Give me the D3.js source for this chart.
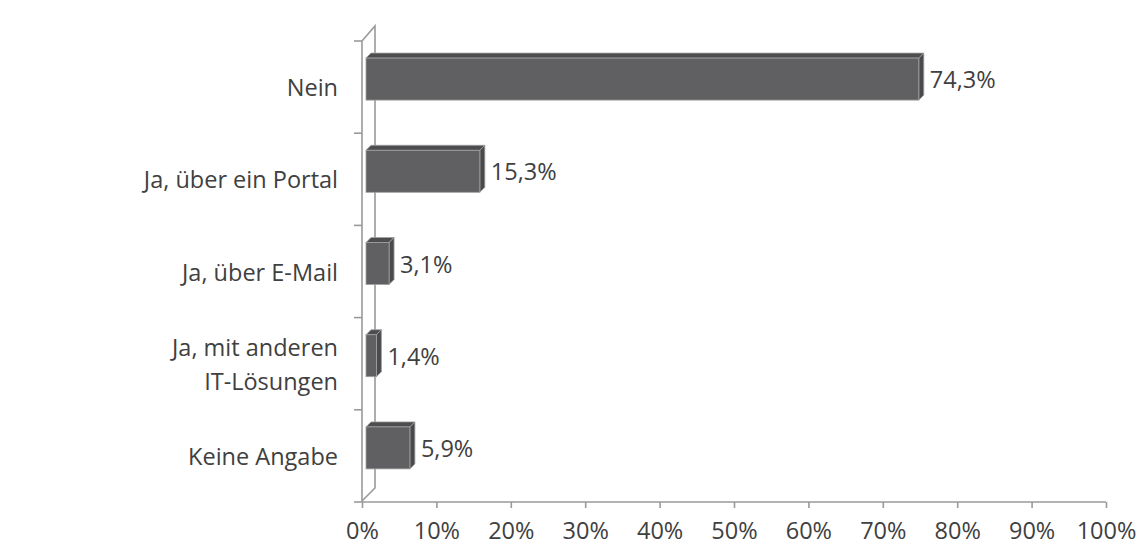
<!DOCTYPE html>
<html>
<head>
<meta charset="utf-8">
<title>Balkendiagramm</title>
<script src="https://d3js.org/d3.v7.min.js"></script>
<style>
  body { margin: 0; background: #ffffff; }
  svg text { font-family: "Open Sans", sans-serif; fill: #404040; }
</style>
</head>
<body>
<svg width="1137" height="550"></svg>
<script>
  // data
  var categories = ["Nein", "Ja, über ein Portal", "Ja, über E-Mail", "Ja, mit anderen\nIT-Lösungen", "Keine Angabe"];
  var values = [74.3, 15.3, 3.1, 1.4, 5.9];
  var valueLabels = ["74,3%", "15,3%", "3,1%", "1,4%", "5,9%"];
  var tickValues = [0, 10, 20, 30, 40, 50, 60, 70, 80, 90, 100];

  var svg = d3.select("svg");
  var plotLeft = 362, plotRight = 1106, plotTop = 41, plotBottom = 502;
  var depth = 13;      // wall depth (3d offset)
  var barDepth = 5;
  var fontSize = "23.5px";

  var x = d3.scaleLinear().domain([0, 100]).range([plotLeft, plotRight]);
  var y = d3.scaleBand().domain(categories).range([plotTop, plotBottom]);

  var axisColor = "#9a9a9a";

  // back wall outline
  var wall = svg.append("g").attr("fill", "none").attr("stroke", axisColor).attr("stroke-width", 1.6);
  wall.append("path").attr("d",
    "M" + plotLeft + "," + plotBottom + "L" + plotLeft + "," + plotTop +
    "L" + (plotLeft + depth) + "," + (plotTop - depth - 2) +
    "L" + (plotLeft + depth) + "," + (plotBottom - depth - 1) +
    "L" + plotLeft + "," + (plotBottom - 1));

  // y axis tick marks (category boundaries)
  var bounds = categories.map(function(c) { return y(c); }).concat([plotBottom]);
  svg.append("g").selectAll("line").data(bounds).enter().append("line")
    .attr("x1", plotLeft - 8).attr("x2", plotLeft)
    .attr("y1", function(d) { return d; }).attr("y2", function(d) { return d; })
    .attr("stroke", axisColor).attr("stroke-width", 1.6);

  // x axis
  var xAxis = d3.axisBottom(x).tickValues(tickValues)
    .tickFormat(function(d) { return d + "%"; })
    .tickSize(6).tickPadding(14);
  var ax = svg.append("g").attr("transform", "translate(0," + plotBottom + ")").call(xAxis);
  ax.select(".domain").attr("stroke", axisColor).attr("stroke-width", 1.6)
    .attr("d", "M" + plotLeft + ",0H" + plotRight);
  ax.selectAll(".tick line").attr("stroke", axisColor).attr("stroke-width", 1.6);
  ax.selectAll(".tick text").style("font-size", fontSize).attr("fill", "#404040");

  // bars
  var bars = svg.append("g");
  categories.forEach(function(c, i) {
    var cy = y(c) + y.bandwidth() / 2;
    var x0 = x(0) + 4, x1 = x(values[i]) + 4;
    var y0 = cy - 29, y1 = cy + 13;
    var d = barDepth;
    // top face
    bars.append("path")
      .attr("d", "M" + x0 + "," + y0 + "L" + (x0 + d) + "," + (y0 - d) + "L" + (x1 + d) + "," + (y0 - d) + "L" + x1 + "," + y0 + "Z")
      .attr("fill", "#4d4d4f").attr("stroke", "#a0a0a0").attr("stroke-width", 0.8);
    // side face
    bars.append("path")
      .attr("d", "M" + x1 + "," + y0 + "L" + (x1 + d) + "," + (y0 - d) + "L" + (x1 + d) + "," + (y1 - d) + "L" + x1 + "," + y1 + "Z")
      .attr("fill", "#4a4a4c").attr("stroke", "#a0a0a0").attr("stroke-width", 0.8);
    // front face
    bars.append("rect")
      .attr("x", x0).attr("y", y0)
      .attr("width", x1 - x0).attr("height", y1 - y0)
      .attr("fill", "#606062").attr("stroke", "#a0a0a0").attr("stroke-width", 0.8);
    // value label
    bars.append("text")
      .attr("x", x1 + d + 6).attr("y", cy - 8)
      .attr("dominant-baseline", "central")
      .style("font-size", fontSize)
      .text(valueLabels[i]);
  });

  // category labels
  var labels = svg.append("g");
  categories.forEach(function(c) {
    var lines = c.split("\n");
    var cy = y(c) + y.bandwidth() / 2;
    var t = labels.append("text")
      .attr("text-anchor", "end")
      .attr("x", 338)
      .style("font-size", fontSize);
    lines.forEach(function(l, j) {
      t.append("tspan")
        .attr("x", 338)
        .attr("y", cy + (j - (lines.length - 1) / 2) * 34)
        .attr("dominant-baseline", "central")
        .text(l);
    });
  });
</script>
</body>
</html>
